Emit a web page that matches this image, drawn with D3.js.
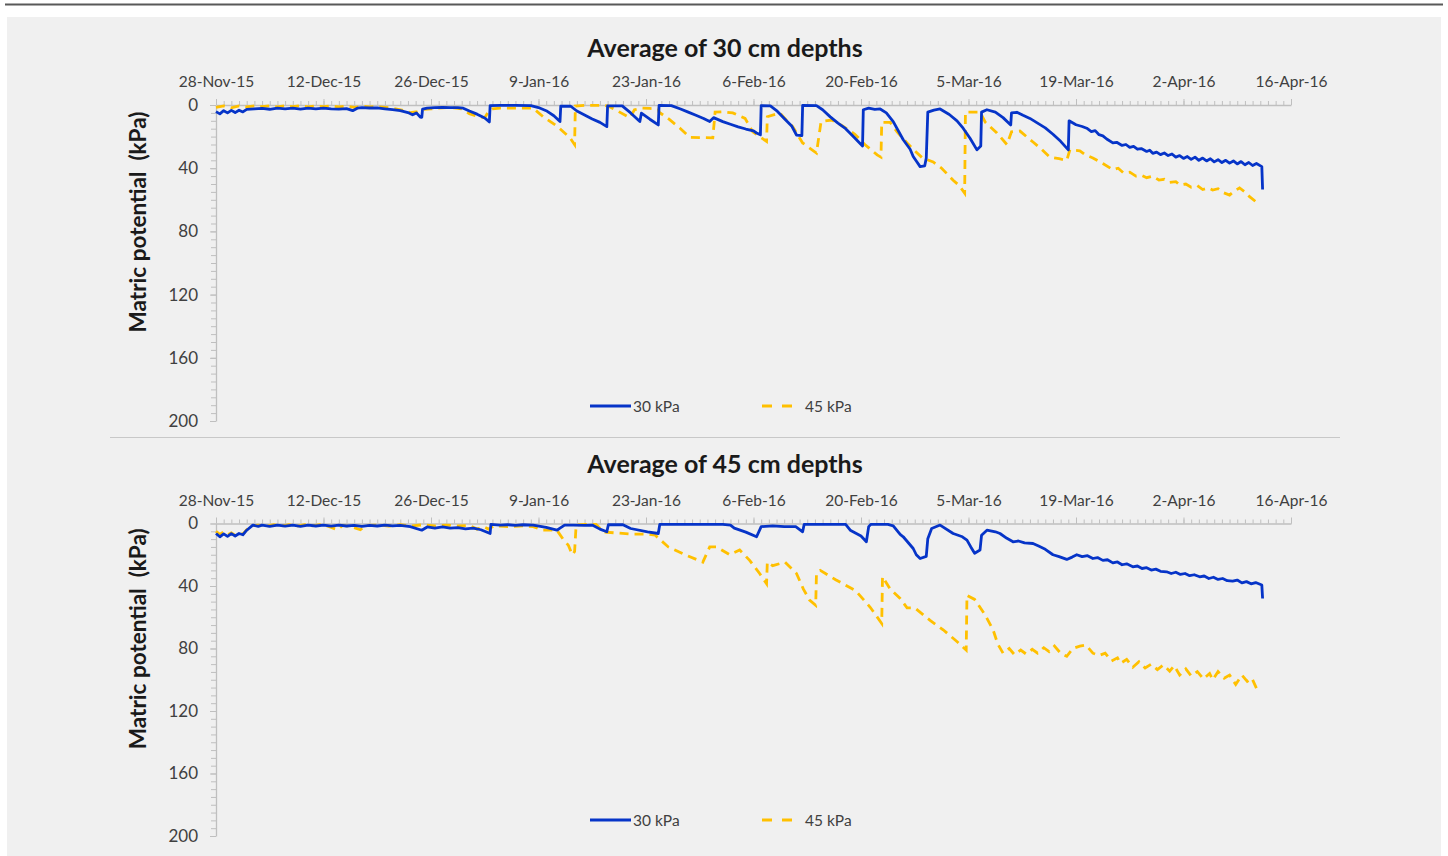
<!DOCTYPE html>
<html>
<head>
<meta charset="utf-8">
<script src="https://cdn.jsdelivr.net/npm/d3@7"></script>
<style>
  html, body { margin: 0; padding: 0; background: #ffffff; }
  svg { display: block; }
  text { font-family: Lato, "Liberation Sans", sans-serif; }
</style>
</head>
<body>
<svg id="chart" width="1448" height="856"></svg>
<script>
// ---------- DATA (day offset from 28-Nov-15, matric potential kPa) ----------
const startDate = "2015-11-28";
const endDate = "2016-04-16";
const xTicks = ["2015-11-28","2015-12-12","2015-12-26","2016-01-09","2016-01-23","2016-02-06",
                "2016-02-20","2016-03-05","2016-03-19","2016-04-02","2016-04-16"];
const yTicks = [0, 40, 80, 120, 160, 200];
const seriesNames = ["30 kPa", "45 kPa"];
const titles = ["Average of 30 cm depths", "Average of 45 cm depths"];
const yLabel = "Matric potential  (kPa)";

// 30 cm depth, 30 kPa treatment
const top30 = [[0,4.2],[0.5,5.6],[1,3.6],[1.5,5],[2,3.4],[2.5,4.8],[3,3.3],[3.5,4.4],[4,2.8],[5,2.4],[6,2.2],[7,2.7],[8,2.0],[9,2.5],[10,2.0],[11,2.6],[12,2.0],[13,2.5],[14,2.0],[15,2.4],[16,2.6],[17,2.3],[17.8,3.6],[18.4,2.0],[19,1.7],[20,1.9],[21,1.8],[22,2.4],[23,2.9],[24,3.6],[25,4.8],[25.6,6.2],[26.1,5.0],[26.6,7.6],[26.8,7.8],[26.9,2.6],[27.5,2.0],[28.5,1.7],[29.5,1.5],[30.5,1.6],[31.5,1.6],[32.2,2.0],[33,3.8],[34,5.8],[35,8.2],[35.6,10.7],[35.7,0.4],[37,0.3],[39,0.3],[41,0.4],[42,1.6],[43,3.6],[44,6.8],[44.8,10.5],[44.9,0.7],[46.2,0.8],[47,3.8],[48,6.3],[49,8.8],[50,11],[50.9,13.7],[51,0.5],[52.9,0.6],[54,5],[55.2,10.5],[55.4,5.2],[56.5,9],[57.6,12.6],[57.7,0.3],[59.3,0.4],[60.5,2.5],[61.5,4.5],[62.5,6.5],[63.5,8.5],[64.3,10.5],[64.8,8],[66,10.5],[67,12.2],[68,13.8],[69,15.2],[70,16.4],[70.4,17.7],[70.9,18.9],[71,0.4],[72.2,0.5],[73,3.5],[74,8.5],[75,13.5],[75.6,19],[76.3,19.4],[76.4,0.3],[78.2,0.4],[79,3],[80,7.5],[81,11.5],[82,15],[83,20],[84.2,25.9],[84.3,3],[85,2],[85.8,2.8],[86.5,2.5],[87.3,5],[88.2,10.5],[89.5,22],[90.4,28],[90.8,32.6],[91.2,35.5],[91.7,39],[92.3,38.5],[92.5,33.5],[92.7,4.5],[93.5,3.2],[94.3,2.5],[95.5,6],[96.5,10],[97.3,14.7],[98.2,21],[99.1,28.4],[99.6,26],[99.7,4.5],[100.4,3],[101.5,4.5],[102.5,8],[103.5,12.6],[103.6,5],[104.3,4.6],[105.1,6.5],[106,8.5],[107,11.5],[108,14.5],[109,18.5],[110,23],[111,28.4],[111.1,10],[112,12.5],[112.8,13.6],[113.4,14.7],[114,16.8],[114.5,16.2],[115,18.8],[115.5,19.5],[116,21.5],[116.8,24],[117.3,23.6],[118,25.6],[118.5,25],[119,26.8],[119.5,26.2],[120,28],[120.5,27.6],[121.2,29.4],[121.6,28.6],[122,30.6],[122.5,29.8],[123,31.4],[123.5,30.4],[124,32],[124.5,31],[125,33],[125.5,32],[126,33.8],[126.5,32.6],[127,34.4],[127.5,33],[128,35],[128.5,33.6],[129,35.4],[129.5,34],[130,36],[130.5,34.6],[131,36.4],[131.5,35],[132,36.8],[132.5,35.4],[133,37.3],[133.5,35.8],[134,37.8],[134.5,36.4],[135,38.3],[135.5,37],[136.2,39],[136.3,53.5]];

// 30 cm depth, 45 kPa treatment
const top45 = [[0,1.5],[1,0.6],[2,1.8],[3,0.6],[4,1.2],[5,0.5],[6,1.0],[7,0.5],[8,1.2],[9,0.5],[10,1.0],[11,0.5],[12,1.2],[13,0.6],[14,1.0],[15,0.5],[16,1.2],[17,0.6],[18,1.5],[19,0.8],[20,1.2],[21,1.0],[22,1.5],[23,2.0],[24.4,3.5],[25.3,4.8],[26.2,4.2],[27,2.8],[28,2.5],[29,2],[30,1.6],[31,1.8],[32,2.5],[33,5.5],[34,7.2],[35,8],[35.5,4],[36,2.5],[37,2],[39,2],[41.3,2],[42.6,7.4],[44.5,13.7],[46.1,20.7],[46.7,25],[46.8,0.7],[48,0.2],[50,0.2],[51,0.5],[52,3],[53.9,8],[54.5,3],[55.5,2],[56.5,2.2],[57.6,2.5],[57.7,4.5],[59,9],[60.5,15],[61.7,20.5],[63,20.6],[64.7,20.8],[65,4.5],[66,4.3],[67.3,5],[68.9,8.5],[69.9,17],[71.7,23],[71.8,7.4],[73.4,5],[75.1,13.7],[76.4,24],[78.2,30.4],[78.8,10.5],[80.2,9.5],[81.5,13],[83.2,18.5],[84.5,25],[86.1,31.6],[86.6,33],[86.7,11],[87.8,11],[88.7,17],[90,24],[91,29],[92,33.5],[93.4,36],[94.5,40],[96,47.6],[96.8,51],[97.5,55.8],[97.6,4.5],[99.5,4.5],[100.2,11],[101.7,17.7],[103,25],[103.6,17],[104.7,16.5],[106.4,23.4],[107.5,28],[108.6,33],[109.8,34],[110.8,35],[111.2,28.4],[112.5,29],[113.2,31.5],[114.2,33.5],[115.5,37],[116.8,41],[117.5,40],[118.2,43],[119,42.5],[119.8,45],[120.5,44.5],[121.2,46],[122,45],[122.8,47.5],[123.5,47],[124.2,49],[125,48.5],[125.5,50.6],[126.3,50],[127,52],[127.8,51],[128.5,53.5],[129.2,52.5],[129.8,53.8],[130.5,53],[131.2,55.5],[132,57],[132.6,54.5],[133.3,52.5],[134,55],[134.6,58],[135.5,61.5]];

// 45 cm depth, 30 kPa treatment
const bot30 = [[0,6.4],[0.5,8.5],[1,6.6],[1.5,8.2],[2,6.5],[2.5,8],[3,6.4],[3.5,7.2],[4,4.3],[4.8,1],[5.5,1.8],[6,1],[7,1.8],[8,1],[9,1.7],[10,1],[11,1.8],[12,1],[13,1.6],[14,1],[15,1.7],[16,1],[17,1.6],[18,1.2],[19,1.8],[20,1.2],[21,1.6],[22,1],[23,1.5],[24,1.2],[25.3,2],[26.8,4.3],[27.5,2.2],[28.5,3],[29.5,2.2],[30.5,3],[31.5,2.6],[32.5,3.4],[33.5,3],[34.5,4],[35.7,6.4],[35.8,0.6],[37,1],[38,0.8],[39,1.2],[40,0.8],[41.3,1],[43,2.5],[44.4,4.3],[44.8,3],[45.4,1],[46.5,1],[48,1.2],[49,1],[50,3.6],[50.9,5.3],[51.1,0.8],[53,0.8],[54,3.2],[56.2,5.3],[57.6,6.4],[57.8,0.5],[60,0.5],[63,0.5],[66,0.6],[67,1],[67.5,3],[69,5.5],[70.4,8.5],[71,2],[72.5,1.5],[74,2],[75.5,2],[76.4,5.3],[76.6,0.5],[79,0.5],[82,0.6],[82.6,4.3],[84,8],[84.7,11.7],[85,2],[85.3,0.5],[87.5,0.6],[88.2,1.5],[89.1,7],[89.5,8.5],[90.8,16],[91.2,20],[91.7,22.4],[92.5,21],[92.7,9.7],[93.2,3.2],[94.3,1],[96,6.4],[97.2,8.5],[97.8,10.6],[98.3,15],[98.8,19],[99.5,17],[99.7,7.5],[100.4,4.3],[101.5,5.3],[102.1,6.4],[103,9.5],[103.8,11.7],[104.5,11.2],[105.3,12.4],[106.4,12.8],[107.2,14.6],[108,16.5],[109,20],[109.8,21.2],[110.8,23],[111.5,21.5],[112.1,20],[112.8,21.2],[113.5,20.6],[114.2,22.4],[114.8,21.8],[115.5,23.6],[116.1,23.2],[116.8,25.2],[117.4,24.6],[118,26.4],[118.6,25.8],[119.4,27.7],[120,27.2],[120.6,28.8],[121.2,28.3],[121.8,29.8],[122.4,29.2],[123,30.6],[123.8,30.9],[124.4,32],[125,31.2],[125.6,32.6],[126.2,32],[126.8,33.4],[127.4,32.8],[128.1,34.1],[128.7,33.6],[129.3,35.2],[129.9,34.4],[130.5,35.8],[131.1,35.2],[131.7,36.6],[132.4,36.9],[133,36.2],[133.6,38],[134.2,37.2],[134.8,38.6],[135.4,37.8],[136.2,39.4],[136.3,48]];

// 45 cm depth, 45 kPa treatment
const bot45 = [[0,5],[0.5,7],[1,5.4],[1.5,7.2],[2,6],[2.5,7.6],[3,6],[3.5,6.8],[4,4],[4.6,1.5],[5.5,1],[6.5,1.8],[7.5,0.8],[8.5,1.6],[9.5,0.8],[10.5,1.8],[11.5,0.8],[12.5,1.5],[13.5,0.8],[14.5,1.6],[15.8,4],[16.5,1.2],[17.5,1.8],[18.8,4],[19.5,1.2],[21,1],[22.5,1.6],[24,0.8],[25.5,1.6],[27,0.8],[28.5,1.5],[30,1],[31.5,1.6],[33,1.2],[34,3.6],[34.8,2],[35.5,3.6],[36.2,1.5],[38,2],[40,1.5],[41.3,2],[42.6,4.3],[44.4,4.3],[45.2,10],[45.9,14],[46.4,20],[46.7,18],[46.9,1],[48,0.5],[49.5,0.6],[50.5,5.5],[52,6],[54,6.8],[56.2,6.8],[57.2,7.5],[58.9,15],[61.1,20],[63.4,24.7],[64.3,15],[65.2,15],[66.9,20],[68.2,17],[69.5,23.6],[70.8,32],[71.7,38.5],[71.8,24.7],[72.5,27],[74.1,24.7],[75.6,32],[76.5,42],[77.3,49],[78.1,52.4],[78.2,32],[78.7,30],[80.7,36],[83.3,43],[85.2,53.6],[86.7,64],[86.8,34],[87.8,42],[89.1,48],[90,54],[91,54],[93,62],[94.7,68],[96.6,76],[97.7,81],[97.8,46],[98.8,48.6],[100.1,58],[101.2,68],[101.8,77],[102.5,83],[103.3,80],[104,84],[104.8,81],[105.5,83.5],[106.3,80.5],[107,83],[107.8,79.5],[108.5,82],[109.2,78.5],[110,83],[110.8,85],[111.6,80],[112.5,78.5],[113.3,77.8],[114.2,83],[115,84.5],[115.8,83],[116.6,88],[117.4,86],[117.8,89.5],[118.6,87],[119.4,92],[120.2,88.5],[121,92.5],[121.8,90],[122.6,93.5],[123.4,90.5],[124.2,94.5],[124.8,91],[125.5,97],[126.3,93],[127,97.5],[127.8,94.8],[128.6,99.5],[129.4,96],[129.8,100],[130.5,94.8],[131.3,99],[132,97],[132.8,103],[133.6,97],[134.3,101],[134.9,99],[135.6,106.5]];

// ---------- DRAWING ----------
const svg = d3.select("#chart");
const colors = ["#0634c8", "#ffc000"];
const axisColor = "#bfbfbf";
const labelColor = "#404040";

const t0 = Date.parse(startDate + "T00:00:00Z");
const toDate = d => new Date(t0 + d * 864e5);
const parseDay = s => new Date(Date.parse(s + "T00:00:00Z"));
const fmt = d3.utcFormat("%-d-%b-%y");

// page frame
svg.append("line").attr("x1", 5).attr("x2", 1443).attr("y1", 4.5).attr("y2", 4.5)
  .attr("stroke", "#595959").attr("stroke-width", 2);
svg.append("rect").attr("x", 7).attr("y", 17).attr("width", 1434).attr("height", 839)
  .attr("fill", "#f0f0f0");
svg.append("line").attr("x1", 110).attr("x2", 1340).attr("y1", 437.5).attr("y2", 437.5)
  .attr("stroke", "#c8c8c8").attr("stroke-width", 1);

const x = d3.scaleUtc().domain([parseDay(startDate), parseDay(endDate)]).range([216, 1291]);

const panels = [
  { title: titles[0], titleY: 47, y0: 105, y1: 421, legendY: 406, s: [top30, top45] },
  { title: titles[1], titleY: 463, y0: 523.5, y1: 836, legendY: 820, s: [bot30, bot45] }
];

panels.forEach(p => {
  const y = d3.scaleLinear().domain([0, 200]).range([p.y0, p.y1]);
  const g = svg.append("g");

  // title
  g.append("text").attr("x", 725).attr("y", p.titleY).attr("text-anchor", "middle")
    .attr("dominant-baseline", "central").attr("font-size", 25).attr("font-weight", "bold")
    .attr("fill", "#1a1a1a").text(p.title);

  // y label
  g.append("text")
    .attr("transform", `translate(137,${(p.y0 + p.y1) / 2 - 41}) rotate(-90)`)
    .attr("text-anchor", "middle").attr("dominant-baseline", "central")
    .attr("font-size", 22.5).attr("font-weight", "bold").attr("fill", "#1a1a1a")
    .style("white-space", "pre").text(yLabel);

  // minor x ticks (daily)
  const xMinor = g.append("g").attr("transform", `translate(0,${p.y0})`)
    .call(d3.axisTop(x).ticks(d3.utcDay.every(1)).tickSize(4).tickFormat(""));
  xMinor.select(".domain").remove();
  xMinor.selectAll("line").attr("stroke", axisColor);

  // major x axis
  const xAx = g.append("g").attr("transform", `translate(0,${p.y0})`)
    .call(d3.axisTop(x).tickValues(xTicks.map(parseDay)).tickSize(6).tickSizeOuter(0)
      .tickPadding(12).tickFormat(fmt));
  xAx.select(".domain").attr("stroke", axisColor).attr("stroke-width", 1.3);
  xAx.selectAll("line").attr("stroke", axisColor);
  xAx.selectAll("text").attr("font-size", 15.5).attr("fill", labelColor)
    .style("font-family", "Lato, sans-serif");

  // minor y ticks every 5
  const yMinor = g.append("g").attr("transform", "translate(216,0)")
    .call(d3.axisLeft(y).tickValues(d3.range(0, 201, 5)).tickSize(5).tickFormat(""));
  yMinor.select(".domain").remove();
  yMinor.selectAll("line").attr("stroke", axisColor);

  const yAx = g.append("g").attr("transform", "translate(216,0)")
    .call(d3.axisLeft(y).tickValues(yTicks).tickSize(6).tickSizeOuter(0).tickPadding(12));
  yAx.select(".domain").attr("stroke", axisColor).attr("stroke-width", 1.3);
  yAx.selectAll("line").attr("stroke", axisColor);
  yAx.selectAll("text").attr("font-size", 17).attr("fill", labelColor)
    .style("font-family", "Lato, sans-serif");

  // lines
  const line = d3.line().x(d => x(toDate(d[0]))).y(d => y(d[1]));
  g.append("path").datum(p.s[1]).attr("d", line).attr("fill", "none")
    .attr("stroke", colors[1]).attr("stroke-width", 2.8).attr("stroke-dasharray", "9,6");
  g.append("path").datum(p.s[0]).attr("d", line).attr("fill", "none")
    .attr("stroke", colors[0]).attr("stroke-width", 2.8).attr("stroke-linejoin", "round");

  // legend
  const lg = g.append("g").attr("transform", `translate(0,${p.legendY})`);
  lg.append("line").attr("x1", 590).attr("x2", 631).attr("y1", 0).attr("y2", 0)
    .attr("stroke", colors[0]).attr("stroke-width", 2.8);
  lg.append("text").attr("x", 633).attr("y", 0).attr("dominant-baseline", "central")
    .attr("font-size", 15.5).attr("fill", labelColor).text(seriesNames[0]);
  lg.append("line").attr("x1", 762).attr("x2", 793).attr("y1", 0).attr("y2", 0)
    .attr("stroke", colors[1]).attr("stroke-width", 2.8).attr("stroke-dasharray", "10,10");
  lg.append("text").attr("x", 805).attr("y", 0).attr("dominant-baseline", "central")
    .attr("font-size", 15.5).attr("fill", labelColor).text(seriesNames[1]);
});
</script>
</body>
</html>
